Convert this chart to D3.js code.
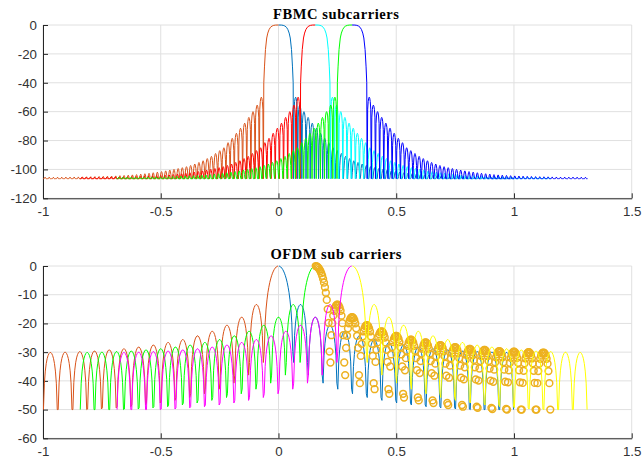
<!DOCTYPE html>
<html><head><meta charset="utf-8">
<script src="https://cdn.jsdelivr.net/npm/d3@7"></script>
<style>body{margin:0;background:#fff}</style>
</head><body>
<svg id="c" width="642" height="461"></svg>
<script>
// ---------------- data ----------------
const xTicks = [-1, -0.5, 0, 0.5, 1, 1.5];
const fbmcYTicks = [-120, -100, -80, -60, -40, -20, 0];
const ofdmYTicks = [-60, -50, -40, -30, -20, -10, 0];
const fbmcTitle = "FBMC subcarriers";
const ofdmTitle = "OFDM sub carriers";

// sub-carrier centres (normalised frequency) and half-span of each spectrum
const subcarrierCenters = [0, 0.15625, 0.3125];
const halfSpan = 1;

// FBMC prototype: main lobe (offset from centre, dB)
const fbmcMainOffsets = [0, 0.012, 0.02, 0.027, 0.034, 0.04, 0.0454, 0.05, 0.0553, 0.0595, 0.0624];
const fbmcMainDb      = [0, -0.05, -0.25, -0.7, -1.6, -3.2, -5.6, -9, -17, -29, -40];
const fbmcSidelobeStart = 0.064;
// FBMC sidelobe peak levels (dB), from the main lobe outward
const fbmcSidelobePeaks = [-50, -55.5, -60, -64, -68, -71.5, -75, -78.5, -81.5, -85,
  -87, -89, -91, -92.5, -94, -95.2, -96.3, -97.3, -98.1, -98.8,
  -99.4, -100, -100.5, -101, -101.5, -101.9, -102.3, -102.7, -103, -103.3,
  -103.6, -103.8, -104, -104.2, -104.35, -104.5, -104.6, -104.7, -104.8, -104.9,
  -105, -105.05, -105.1, -105.15, -105.2, -105.25, -105.3, -105.3, -105.35, -105.35,
  -105.4, -105.4, -105.4];
// shape of one FBMC sidelobe: dB below its peak at the inner samples
const fbmcLobeProfileDb = [-8.3, -3.0, -0.7, 0, -0.7, -3.0, -8.3];
const fbmcFloorDb = -106.4;

// OFDM prototype
const ofdmLobeWidth = 0.0625;
const ofdmMainProfileDb = [-0.01, -0.13, -0.35, -0.7, -1.16, -1.76, -2.5, -3.4,
  -4.5, -5.8, -7.4, -9.3, -11.8, -15.0, -19.8, -29.8];
const ofdmSidelobePeaks = [-13.4, -17.8, -20.6, -22.7, -24.3, -25.6, -26.6, -27.5,
  -28.2, -28.8, -29.2, -29.6, -29.8, -30.0, -30.1];
const ofdmSideProfileDb = [-20.2, -10.7, -6.5, -3.9, -2.2, -1.1, -0.4, -0.04,
  -0.04, -0.4, -1.1, -2.2, -3.9, -6.5, -10.7, -20.2];
const ofdmFloorDb = -50;

// series (half spectra), in drawing order
const fbmcHalfCarrier = [0, 0, 1, 1, 2, 2];
const fbmcHalfSide    = [1, -1, -1, 1, -1, 1];
const ofdmHalfCarrier = [0, 0, 1, 1, 2, 2];
const ofdmHalfSide    = [1, -1, -1, 1, -1, 1];
const ofdmHalfMarker  = [false, false, false, true, false, false];

// styles
const fbmcHalfColors = ["#0072BD", "#D95319", "#FF0000", "#00FFFF", "#00FF00", "#0000FF"];
const ofdmHalfColors = ["#0072BD", "#D95319", "#00FF00", "#EDB120", "#FF00FF", "#FFFF00"];

// ---------------- drawing ----------------
const svg = d3.select("#c");
const x = d3.scaleLinear().domain([-1, 1.5]).range([43, 631.7]);
const yTop = d3.scaleLinear().domain([-120, 0]).range([198.3, 25]);
const yBot = d3.scaleLinear().domain([-60, 0]).range([438.3, 266]);

const axisColor = "#262626";
const gridColor = "#e0e0e0";
const fontSans = "'Liberation Sans', Arial, Helvetica, sans-serif";

function frame(y, yTicks, title, titleLen, titleBase) {
  const g = svg.append("g");
  g.selectAll(".gx").data(xTicks).enter().append("line")
    .attr("x1", d => x(d)).attr("x2", d => x(d))
    .attr("y1", y.range()[1]).attr("y2", y.range()[0])
    .attr("stroke", gridColor).attr("stroke-width", 1);
  g.selectAll(".gy").data(yTicks).enter().append("line")
    .attr("x1", x.range()[0]).attr("x2", x.range()[1])
    .attr("y1", d => y(d)).attr("y2", d => y(d))
    .attr("stroke", gridColor).attr("stroke-width", 1);
  const ax = g.append("g").attr("transform", `translate(0,${y.range()[0]})`)
    .call(d3.axisBottom(x).tickValues(xTicks).tickSizeInner(-5).tickSizeOuter(0)
      .tickPadding(8).tickFormat(d => String(d)));
  const ay = g.append("g").attr("transform", `translate(${x.range()[0]},0)`)
    .call(d3.axisLeft(y).tickValues(yTicks).tickSizeInner(-5).tickSizeOuter(0)
      .tickPadding(6).tickFormat(d => String(d)));
  [ax, ay].forEach(a => {
    a.select(".domain").attr("stroke", axisColor).attr("stroke-width", 1);
    a.selectAll(".tick line").attr("stroke", axisColor);
    a.selectAll("text").attr("fill", "#333").style("font-family", fontSans).style("font-size", "13.3px");
  });
  svg.append("text").attr("x", 336).attr("y", titleBase)
    .attr("text-anchor", "middle")
    .attr("textLength", titleLen).attr("lengthAdjust", "spacing")
    .style("font-family", "'Liberation Serif', 'DejaVu Serif', serif")
    .style("font-weight", "bold").style("font-size", "14.5px")
    .attr("fill", "#000").text(title);
}

frame(yTop, fbmcYTicks, fbmcTitle, 126, 18.5);
frame(yBot, ofdmYTicks, ofdmTitle, 131, 259);

function fbmcHalfPoints(center, side) {
  const pts = [];
  fbmcMainOffsets.forEach((o, i) => pts.push([center + side * o, fbmcMainDb[i]]));
  const w = (halfSpan - fbmcSidelobeStart) / fbmcSidelobePeaks.length;
  const n = fbmcLobeProfileDb.length + 1;
  fbmcSidelobePeaks.forEach((p, k) => {
    const left = fbmcSidelobeStart + k * w;
    pts.push([center + side * left, fbmcFloorDb]);
    fbmcLobeProfileDb.forEach((d, i) =>
      pts.push([center + side * (left + (i + 1) / n * w), Math.max(fbmcFloorDb, p + d)]));
  });
  pts.push([center + side * halfSpan, fbmcFloorDb]);
  return pts;
}

function ofdmHalfPoints(center, side) {
  const pts = [];
  const w = ofdmLobeWidth;
  const n = ofdmMainProfileDb.length;
  ofdmMainProfileDb.forEach((d, i) =>
    pts.push([center + side * (i + 0.5) / n * w, Math.max(ofdmFloorDb, d)]));
  const m = ofdmSideProfileDb.length;
  ofdmSidelobePeaks.forEach((p, k) => {
    const left = (k + 1) * w;
    ofdmSideProfileDb.forEach((d, i) =>
      pts.push([center + side * (left + (i + 0.5) / m * w), Math.max(ofdmFloorDb, p + d)]));
  });
  return pts;
}

const topG = svg.append("g");
fbmcHalfCarrier.forEach((ci, s) => {
  const pts = fbmcHalfPoints(subcarrierCenters[ci], fbmcHalfSide[s]);
  const line = d3.line().x(d => x(d[0])).y(d => yTop(d[1]));
  topG.append("path").attr("d", line(pts)).attr("fill", "none")
    .attr("stroke", fbmcHalfColors[s]).attr("stroke-width", 1)
    .attr("stroke-linejoin", "round");
});

const botG = svg.append("g");
ofdmHalfCarrier.forEach((ci, s) => {
  const pts = ofdmHalfPoints(subcarrierCenters[ci], ofdmHalfSide[s]);
  if (ofdmHalfMarker[s]) {
    botG.append("g").selectAll("circle").data(pts).enter().append("circle")
      .attr("cx", d => x(d[0])).attr("cy", d => yBot(d[1])).attr("r", 3.4)
      .attr("fill", "none").attr("stroke", ofdmHalfColors[s]).attr("stroke-width", 1.5);
  } else {
    const line = d3.line().x(d => x(d[0])).y(d => yBot(d[1]));
    botG.append("path").attr("d", line(pts)).attr("fill", "none")
      .attr("stroke", ofdmHalfColors[s]).attr("stroke-width", 1)
      .attr("stroke-linejoin", "round");
  }
});
</script>
</body></html>
